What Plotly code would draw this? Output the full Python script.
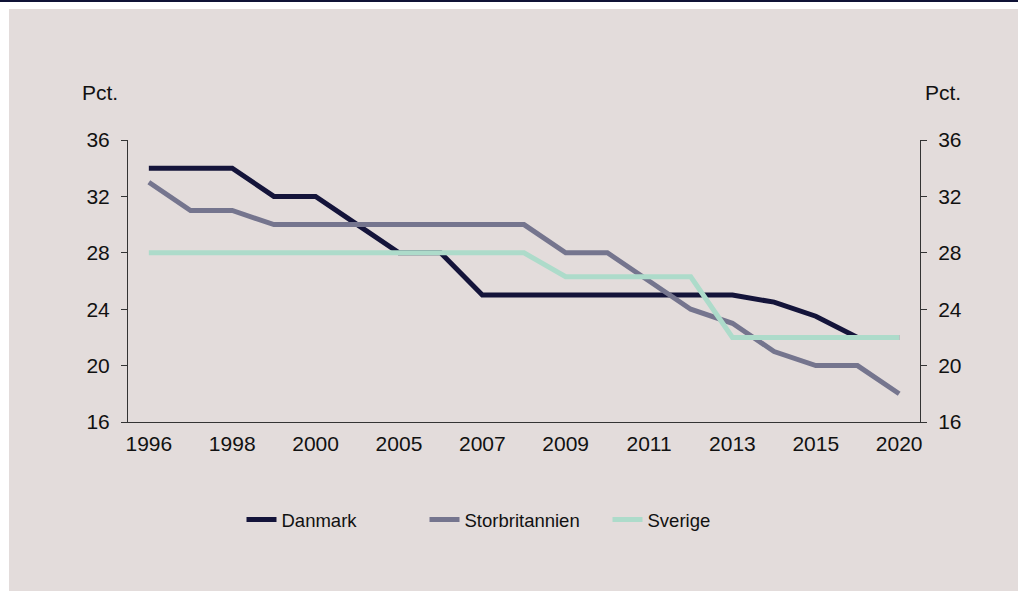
import plotly.graph_objects as go

years = ["1996", "1997", "1998", "1999", "2000", "2001", "2005", "2006", "2007",
         "2008", "2009", "2010", "2011", "2012", "2013", "2014", "2015", "2016", "2020"]
tick_years = ["1996", "1998", "2000", "2005", "2007", "2009", "2011", "2013", "2015", "2020"]

danmark = [34, 34, 34, 32, 32, 30, 28, 28, 25, 25, 25, 25, 25, 25, 25, 24.5, 23.5, 22, 22]
storbritannien = [33, 31, 31, 30, 30, 30, 30, 30, 30, 30, 28, 28, 26, 24, 23, 21, 20, 20, 18]
sverige = [28, 28, 28, 28, 28, 28, 28, 28, 28, 28, 26.3, 26.3, 26.3, 26.3, 22, 22, 22, 22, 22]

W, H = 1018, 591
L, R, T, B = 128, 920, 140, 422
BG = "#E3DCDB"
FONT = "Liberation Sans, Arial, sans-serif"

def px_x(p):
    return (p - L) / (R - L)

def px_y(p):
    return (B - p) / (B - T)

fig = go.Figure()
fig.add_trace(go.Scatter(x=years, y=danmark, name="Danmark", mode="lines",
                         line=dict(color="#14143A", width=5)))
fig.add_trace(go.Scatter(x=years, y=storbritannien, name="Storbritannien", mode="lines",
                         line=dict(color="#75758E", width=5)))
fig.add_trace(go.Scatter(x=years, y=sverige, name="Sverige", mode="lines", yaxis="y2",
                         line=dict(color="#ADDBCA", width=5)))

axis_common = dict(range=[16, 36], dtick=4, tick0=16, showgrid=False, zeroline=False,
                   showline=True, linecolor="#333333", linewidth=1,
                   ticks="outside", ticklen=6, tickcolor="#333333", tickwidth=1,
                   ticklabelstandoff=7,
                   tickfont=dict(family=FONT, size=21, color="#111111"))

fig.update_layout(
    width=W, height=H,
    margin=dict(l=L, r=W - R, t=T, b=H - B),
    paper_bgcolor="white",
    plot_bgcolor=BG,
    showlegend=True,
    xaxis=dict(type="category", categoryorder="array", categoryarray=years,
               range=[-0.5, len(years) - 0.5],
               tickmode="array", tickvals=tick_years, ticktext=tick_years,
               showline=True, linecolor="#333333", linewidth=1, ticks="",
               ticklabelstandoff=3,
               showgrid=False, zeroline=False,
               tickfont=dict(family=FONT, size=21, color="#111111")),
    yaxis=dict(side="left", **axis_common),
    yaxis2=dict(side="right", overlaying="y", **axis_common),
    legend=dict(orientation="h", x=px_x(516), xanchor="center", y=px_y(520), yanchor="middle",
                font=dict(family=FONT, size=18.5, color="#111111"),
                bgcolor="rgba(0,0,0,0)", itemwidth=30, traceorder="normal",
                entrywidth=138, entrywidthmode="pixels"),
    shapes=[
        dict(type="rect", xref="paper", yref="paper", layer="below",
             x0=px_x(9), x1=px_x(W + 2), y0=px_y(9), y1=px_y(H + 2),
             fillcolor=BG, line=dict(width=0)),
        dict(type="line", xref="paper", yref="paper",
             x0=px_x(0), x1=px_x(W), y0=px_y(1), y1=px_y(1),
             line=dict(color="#0F1236", width=2)),
    ],
    annotations=[
        dict(text="Pct.", xref="paper", yref="paper", x=px_x(100), y=px_y(93),
             xanchor="center", yanchor="middle", showarrow=False,
             font=dict(family=FONT, size=21, color="#111111")),
        dict(text="Pct.", xref="paper", yref="paper", x=px_x(943), y=px_y(93),
             xanchor="center", yanchor="middle", showarrow=False,
             font=dict(family=FONT, size=21, color="#111111")),
    ],
)

fig.write_html("out.html", config={"displayModeBar": False},
               post_script="document.body.style.margin='0';")
